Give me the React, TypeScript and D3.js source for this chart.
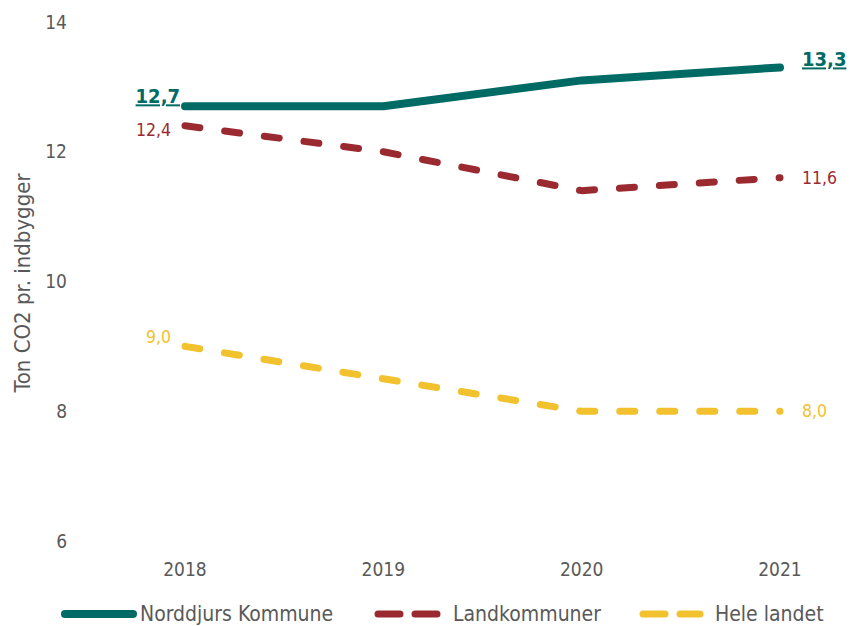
import React, { useEffect, useRef } from 'react';
import * as d3 from 'd3';

const years = ['2018', '2019', '2020', '2021'];
const norddjurs = [12.7, 12.7, 13.1, 13.3];
const landkommuner = [12.4, 12.0, 11.4, 11.6];
const heleLandet = [9.0, 8.5, 8.0, 8.0];
const yTicks = [6, 8, 10, 12, 14];
const seriesNames = ['Norddjurs Kommune', 'Landkommuner', 'Hele landet'];

const FONT = '"DejaVu Sans Condensed", "DejaVu Sans", sans-serif';
const GREY = '#595959';

const App = () => {
    const svgRef = useRef<SVGSVGElement>(null);

    useEffect(() => {
        const svg = d3.select(svgRef.current);
        svg.selectAll('*').remove();

        const width = 850;
        const height = 626;

        const x = d3.scalePoint().domain(years).range([185, 780]);
        const y = d3.scaleLinear().domain([6, 14]).range([541, 22]);

        const fmt = (v: number) => v.toFixed(1).replace('.', ',');

        // y tick labels (no axis line)
        svg.append('g')
            .selectAll('text')
            .data(yTicks)
            .join('text')
            .attr('x', 67)
            .attr('y', d => y(d))
            .attr('dy', '0.35em')
            .attr('text-anchor', 'end')
            .attr('font-family', FONT)
            .attr('font-size', 19)
            .attr('fill', GREY)
            .text(d => d);

        // x tick labels
        svg.append('g')
            .selectAll('text')
            .data(years)
            .join('text')
            .attr('x', d => x(d)!)
            .attr('y', 569)
            .attr('dy', '0.35em')
            .attr('text-anchor', 'middle')
            .attr('font-family', FONT)
            .attr('font-size', 19)
            .attr('fill', GREY)
            .text(d => d);

        // y axis title
        svg.append('text')
            .attr('transform', 'translate(22,283) rotate(-90)')
            .attr('dy', '0.35em')
            .attr('text-anchor', 'middle')
            .attr('font-family', FONT)
            .attr('font-size', 22)
            .attr('fill', GREY)
            .text('Ton CO2 pr. indbygger');

        const series = [
            { name: seriesNames[0], values: norddjurs, color: '#006B64', width: 8, dash: null, bold: true },
            { name: seriesNames[1], values: landkommuner, color: '#9B2A30', width: 7, dash: '15,25', bold: false },
            { name: seriesNames[2], values: heleLandet, color: '#F2C12E', width: 7, dash: '15,25', bold: false },
        ];

        const line = d3.line<number>()
            .x((d, i) => x(years[i])!)
            .y(d => y(d));

        // draw back to front so green is on top
        [...series].reverse().forEach(s => {
            svg.append('path')
                .datum(s.values)
                .attr('d', line)
                .attr('fill', 'none')
                .attr('stroke', s.color)
                .attr('stroke-width', s.width)
                .attr('stroke-linecap', 'round')
                .attr('stroke-linejoin', 'round')
                .attr('stroke-dasharray', s.dash);
        });

        // data labels at first and last point
        const labelOffsets = [
            { first: -10, last: -8 },
            { first: 4, last: 0 },
            { first: -10, last: 0 },
        ];
        series.forEach((s, si) => {
            const n = s.values.length;
            const pts = [
                { v: s.values[0], xp: x(years[0])! - (s.bold ? 5 : 14), anchor: 'end', dy: labelOffsets[si].first },
                { v: s.values[n - 1], xp: x(years[n - 1])! + 22, anchor: 'start', dy: labelOffsets[si].last },
            ];
            pts.forEach(p => {
                const t = svg.append('text')
                    .attr('x', p.xp)
                    .attr('y', y(p.v) + p.dy)
                    .attr('dy', '0.35em')
                    .attr('text-anchor', p.anchor)
                    .attr('font-family', FONT)
                    .attr('font-size', s.bold ? 20 : 17.5)
                    .attr('font-weight', s.bold ? 'bold' : 'normal')
                    .attr('fill', s.color)
                    .text(fmt(p.v));
                if (s.bold) t.attr('text-decoration', 'underline');
            });
        });

        // legend
        const legendY = 614;
        const legendItems = [
            { x0: 65, x1: 133, tx: 140 },
            { x0: 378, x1: 437, tx: 453 },
            { x0: 643, x1: 700, tx: 715 },
        ];
        series.forEach((s, i) => {
            const li = legendItems[i];
            svg.append('line')
                .attr('x1', li.x0)
                .attr('x2', li.x1)
                .attr('y1', legendY)
                .attr('y2', legendY)
                .attr('stroke', s.color)
                .attr('stroke-width', s.width)
                .attr('stroke-linecap', 'round')
                .attr('stroke-dasharray', s.dash ? '22,15' : null);
            svg.append('text')
                .attr('x', li.tx)
                .attr('y', legendY)
                .attr('dy', '0.35em')
                .attr('font-family', FONT)
                .attr('font-size', 21)
                .attr('fill', GREY)
                .text(s.name);
        });

        svg.attr('width', width).attr('height', height);
    }, []);

    return (
        <svg ref={svgRef} width={850} height={626}
            style={{ position: 'absolute', left: 0, top: 0, background: '#fff' }} />
    );
};

export default App;
